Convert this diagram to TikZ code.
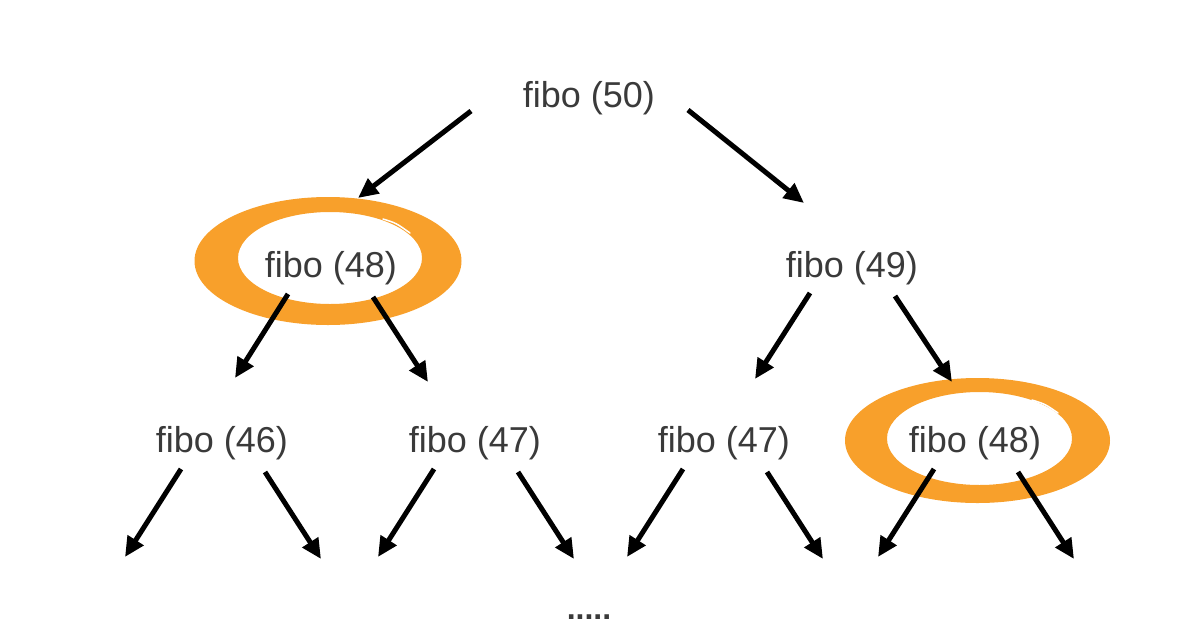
\documentclass[tikz,border=0pt]{standalone}
\usepackage{fontspec}
\setmainfont{Liberation Sans}
\usetikzlibrary{arrows.meta}
\definecolor{fiboText}{HTML}{3A3A3A}
\definecolor{markOrange}{HTML}{F8A02B}
\tikzset{
  call/.style={anchor=base, inner sep=0pt, text=fiboText, font=\fontsize{36}{40}\selectfont},
  callarrow/.style={line width=5pt, -{Triangle[length=20pt,width=18pt]}},
  ring/.style={fill=markOrange, even odd rule},
  streak/.style={draw=white, line width=1.5pt, line cap=round},
}

\begin{document}
\begin{tikzpicture}[x=1pt, y=-1pt]
  \useasboundingbox (0,0) rectangle (1200,630);
  \fill[ring] (328,261) ellipse [x radius=133.5pt, y radius=64pt] (330,258) ellipse [x radius=92pt, y radius=46pt];
  \fill[ring] (977.5,440.5) ellipse [x radius=132.5pt, y radius=62.5pt] (979.5,438.5) ellipse [x radius=92.5pt, y radius=46.5pt];
  \draw[streak] (383,219) .. controls (396,223) .. (410,233);
  \draw[streak] (1032,400) .. controls (1045,404) .. (1058,413);

  \node[call] (f50) at (589,107) {fibo (50)};
  \node[call] (f48a) at (331,277) {fibo (48)};
  \node[call] (f49) at (852,277) {fibo (49)};
  \node[call] (f46) at (222,452) {fibo (46)};
  \node[call] (f47a) at (475,452) {fibo (47)};
  \node[call] (f47b) at (724,452) {fibo (47)};
  \node[call] (f48b) at (975,452) {fibo (48)};
  \node[call, font=\fontsize{32}{34}\selectfont\bfseries] (more) at (589,619) {.....};

  \draw[callarrow] ([shift={(-118,4)}]f50.base) -- ([shift={(27,-79)}]f48a.base);
  \draw[callarrow] ([shift={(99,3)}]f50.base) -- ([shift={(-48,-74)}]f49.base);
  \draw[callarrow] ([shift={(-43,17)}]f48a.base) -- ([shift={(13,-74)}]f46.base);
  \draw[callarrow] ([shift={(42,20)}]f48a.base) -- ([shift={(-47,-70)}]f47a.base);
  \draw[callarrow] ([shift={(-42,16)}]f49.base) -- ([shift={(31,-73)}]f47b.base);
  \draw[callarrow] ([shift={(43,19)}]f49.base) -- ([shift={(-23,-70)}]f48b.base);
  \foreach \n in {f46,f47a,f47b,f48b}{
    \coordinate (\n-l) at ([shift={(-97,105)}]\n.base);
    \coordinate (\n-r) at ([shift={(99,107)}]\n.base);
    \draw[callarrow] ([shift={(-41,17)}]\n.base) -- (\n-l);
    \draw[callarrow] ([shift={(43,20)}]\n.base) -- (\n-r);
  }
\end{tikzpicture}
\end{document}
